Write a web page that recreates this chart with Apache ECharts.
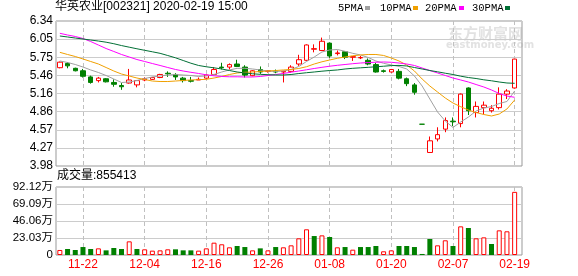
<!DOCTYPE html>
<html><head><meta charset="utf-8">
<script src="https://cdn.jsdelivr.net/npm/echarts@6/dist/echarts.min.js"></script>
<style>html,body{margin:0;padding:0;background:#fff}#c{width:578px;height:276px}</style>
</head><body><div id="c"></div>
<script>
const dates = ['11-19','11-20','11-21','11-22','11-25','11-26','11-27','11-28','11-29','12-02','12-03','12-04','12-05','12-06','12-09','12-10','12-11','12-12','12-13','12-16','12-17','12-18','12-19','12-20','12-23','12-24','12-25','12-26','12-27','12-30','12-31','01-02','01-03','01-06','01-07','01-08','01-09','01-10','01-13','01-14','01-15','01-16','01-17','01-20','01-21','01-22','01-23','02-03','02-04','02-05','02-06','02-07','02-10','02-11','02-12','02-13','02-14','02-17','02-18','02-19'];
const opens = [5.58,5.65,5.57,5.53,5.43,5.37,5.40,5.34,5.29,5.33,5.30,5.38,5.39,5.42,5.49,5.47,5.41,5.37,5.38,5.41,5.47,5.59,5.59,5.64,5.59,5.45,5.55,5.52,5.52,5.51,5.52,5.64,5.70,5.88,5.86,5.98,5.81,5.84,5.75,5.74,5.70,5.63,5.53,5.51,5.52,5.40,5.30,4.66,4.20,4.42,4.58,4.71,4.67,5.25,4.85,4.93,4.88,4.93,5.15,5.25];
const closes = [5.67,5.61,5.53,5.44,5.34,5.41,5.35,5.31,5.27,5.38,5.37,5.40,5.42,5.47,5.48,5.43,5.37,5.36,5.39,5.46,5.55,5.58,5.63,5.60,5.46,5.53,5.51,5.53,5.51,5.52,5.59,5.71,5.95,5.89,6.01,5.77,5.82,5.75,5.76,5.745,5.64,5.51,5.52,5.55,5.41,5.32,5.18,4.66,4.39,4.49,4.72,4.70,5.15,4.88,4.95,4.97,4.92,5.15,5.20,5.72];
const lows = [5.57,5.57,5.52,5.42,5.32,5.34,5.34,5.27,5.22,5.32,5.26,5.36,5.38,5.41,5.43,5.38,5.34,5.34,5.38,5.40,5.46,5.55,5.55,5.59,5.42,5.44,5.48,5.50,5.49,5.34,5.50,5.61,5.69,5.83,5.85,5.74,5.78,5.72,5.69,5.72,5.62,5.50,5.50,5.50,5.39,5.28,5.14,4.66,4.20,4.38,4.53,4.63,4.61,4.81,4.77,4.82,4.85,4.90,5.07,5.24];
const highs = [5.68,5.67,5.58,5.56,5.45,5.43,5.41,5.39,5.33,5.56,5.38,5.42,5.43,5.48,5.52,5.49,5.43,5.43,5.42,5.47,5.59,5.66,5.65,5.71,5.62,5.54,5.60,5.54,5.55,5.53,5.62,5.79,5.96,5.96,6.07,5.99,5.86,5.85,5.77,5.77,5.73,5.66,5.55,5.56,5.56,5.42,5.33,4.66,4.46,4.61,4.77,4.77,5.16,5.26,5.03,5.03,4.97,5.26,5.23,5.72];
const volumes = [68000,81000,68000,108000,81000,90000,63000,95000,81000,185000,81000,77000,59000,63000,77000,77000,63000,63000,59000,90000,167000,145000,104000,122000,108000,63000,90000,63000,108000,104000,131000,226000,348000,257000,266000,244000,104000,108000,72000,108000,108000,122000,50000,63000,122000,122000,108000,14000,217000,131000,199000,122000,388000,366000,226000,239000,149000,334000,321000,855413];
const ma5 = [5.689,5.665,5.632,5.591,5.543,5.502,5.453,5.396,5.339,5.347,5.372,5.404,5.429,5.445,5.461,5.469,5.461,5.453,5.437,5.445,5.469,5.51,5.543,5.57,5.57,5.559,5.543,5.526,5.518,5.526,5.551,5.6,5.681,5.754,5.835,5.868,5.876,5.847,5.814,5.787,5.746,5.689,5.652,5.624,5.6,5.559,5.445,5.282,5.07,4.859,4.712,4.607,4.696,4.777,4.875,4.924,4.948,4.997,5.03,5.201];
const ma10 = [5.83,5.795,5.762,5.722,5.681,5.64,5.583,5.526,5.477,5.445,5.412,5.388,5.363,5.355,5.355,5.363,5.372,5.38,5.385,5.391,5.412,5.437,5.469,5.494,5.505,5.51,5.518,5.526,5.534,5.543,5.551,5.567,5.596,5.64,5.676,5.705,5.733,5.754,5.774,5.787,5.795,5.795,5.779,5.738,5.689,5.624,5.526,5.396,5.282,5.184,5.087,5.005,4.945,4.891,4.85,4.818,4.794,4.826,4.908,5.054];
const ma20 = [6.14,6.112,6.088,6.055,6.006,5.949,5.892,5.844,5.795,5.754,5.713,5.681,5.648,5.616,5.583,5.551,5.526,5.505,5.486,5.464,5.448,5.437,5.432,5.432,5.429,5.429,5.437,5.453,5.469,5.486,5.507,5.526,5.546,5.567,5.586,5.604,5.619,5.632,5.645,5.656,5.664,5.669,5.673,5.668,5.656,5.64,5.616,5.575,5.534,5.494,5.453,5.412,5.38,5.347,5.306,5.266,5.217,5.16,5.119,5.098];
const ma30 = [6.096,6.08,6.063,6.047,6.03,6.014,5.995,5.97,5.94,5.914,5.888,5.863,5.839,5.814,5.778,5.741,5.697,5.653,5.616,5.595,5.578,5.559,5.534,5.51,5.494,5.481,5.472,5.466,5.461,5.461,5.469,5.485,5.498,5.51,5.523,5.534,5.543,5.559,5.57,5.578,5.586,5.595,5.604,5.614,5.617,5.608,5.583,5.559,5.534,5.513,5.49,5.469,5.442,5.42,5.404,5.383,5.367,5.347,5.331,5.326];
const priceTicks = ['3.98','4.27','4.57','4.86','5.16','5.46','5.75','6.05','6.34'];
const volTicks = ['0','23.03万','46.06万','69.09万','92.12万'];
const maNames = ['5PMA','10PMA','20PMA','30PMA'];

const UP = '#ff0000', DOWN = '#008000';
const maColors = ['#a0a0a0','#f0a000','#ff00ff','#006f35'];
const labelIdx = (i) => i % 8 === 3;
const font = "'Liberation Sans','Noto Sans CJK SC',sans-serif";

const chart = echarts.init(document.getElementById('c'), null, {renderer:'canvas', width:578, height:276});
const vsplit = {show:true, interval: labelIdx, alignWithLabel:true, lineStyle:{color:'#c0c0c0', type:[4,3], width:1}};
const legendItems = [];
const legX = [338, 380, 425, 472];
const sqX = [365, 413, 459, 505];
maNames.forEach((n, k) => {
  legendItems.push({type:'text', left:legX[k], top:3, style:{text:n, fill:'#000', font:"10.5px 'Liberation Mono',monospace"}});
  legendItems.push({type:'rect', shape:{x:sqX[k], y:6, width:5, height:4}, style:{fill:maColors[k]}});
});
const option = {
  animation:false,
  title:[
    {text:'华英农业[002321] 2020-02-19 15:00', left:55, top:1, padding:0, textStyle:{fontSize:12, fontWeight:'normal', color:'#000', fontFamily:font}},
    {text:'成交量:' + volumes[volumes.length-1], left:57, top:170, padding:0, textStyle:{fontSize:12, fontWeight:'normal', color:'#000', fontFamily:font}}
  ],
  graphic: [
    {type:'text', left:448, top:26, z:-1, style:{text:'东方财富网', fill:'#e2e2e2', font:"bold 15px 'Noto Sans CJK SC'"}},
    {type:'text', left:446, top:40, z:-1, style:{text:'eastmoney.com', fill:'#e2e2e2', font:"bold 10px 'DejaVu Sans'"}}
  ].concat(legendItems),
  grid:[
    {left:56, top:21, width:466, height:145, show:true, borderColor:'#999', borderWidth:1, backgroundColor:'transparent', outerBoundsMode:'none'},
    {left:56, top:21, width:462.5, height:145, outerBoundsMode:'none'},
    {left:56, top:187, width:466, height:68, show:true, borderColor:'#999', borderWidth:1, backgroundColor:'transparent', outerBoundsMode:'none'},
    {left:56, top:187, width:462.5, height:68, outerBoundsMode:'none'}
  ],
  xAxis:[
    {gridIndex:0, type:'value', show:false, min:0, max:1},
    {gridIndex:1, type:'category', data:dates, boundaryGap:true, axisLine:{show:false}, axisTick:{show:false}, axisLabel:{show:false}, splitLine:vsplit},
    {gridIndex:2, type:'value', show:false, min:0, max:1},
    {gridIndex:3, type:'category', data:dates, boundaryGap:true, axisLine:{show:false}, axisTick:{show:false},
      axisLabel:{show:true, interval:labelIdx, color:'#ff0000', fontSize:12, margin:4, fontFamily:font}, splitLine:vsplit}
  ],
  yAxis:[
    {gridIndex:0, type:'value', min:0, max:8, interval:1, axisLine:{show:false}, axisTick:{show:false},
      axisLabel:{formatter:(v)=>priceTicks[Math.round(v)], color:'#000', fontSize:12, margin:3, fontFamily:font},
      splitLine:{show:true, lineStyle:{color:'#cccccc', width:1}}},
    {gridIndex:1, type:'value', min:3.98, max:6.34, show:false, splitLine:{show:false}},
    {gridIndex:2, type:'value', min:0, max:921200, interval:230300, axisLine:{show:false}, axisTick:{show:false},
      axisLabel:{formatter:(v)=>volTicks[Math.round(v/230300)], color:'#000', fontSize:11.5, margin:3, fontFamily:font},
      splitLine:{show:true, lineStyle:{color:'#cccccc', width:1}}},
    {gridIndex:3, type:'value', min:0, max:921200, show:false, splitLine:{show:false}}
  ],
  series:[
    {type:'candlestick', name:'K', xAxisIndex:1, yAxisIndex:1, barWidth:5,
      data: dates.map((d,i)=>[opens[i], closes[i], lows[i], highs[i]]),
      itemStyle:{color:'#ffffff', color0:DOWN, borderColor:UP, borderColor0:DOWN, borderColorDoji:DOWN, borderWidth:1}},
  ].concat(maNames.map((n,k)=>({
      type:'line', name:n, xAxisIndex:1, yAxisIndex:1, symbol:'none', showSymbol:false,
      data:[ma5,ma10,ma20,ma30][k], lineStyle:{color:maColors[k], width:1}, itemStyle:{color:maColors[k]}, z:3
  }))).concat([
    {type:'bar', name:'VOL', xAxisIndex:3, yAxisIndex:3, barWidth:5,
      data: volumes.map((v,i)=>{
        const up = i === 0 ? closes[i] >= opens[i] : closes[i] >= closes[i-1];
        return {value:v, itemStyle: up ? {color:'#ffffff', borderColor:UP, borderWidth:1} : {color:DOWN}};
      })}
  ])
};
chart.setOption(option);
</script>
</body></html>
